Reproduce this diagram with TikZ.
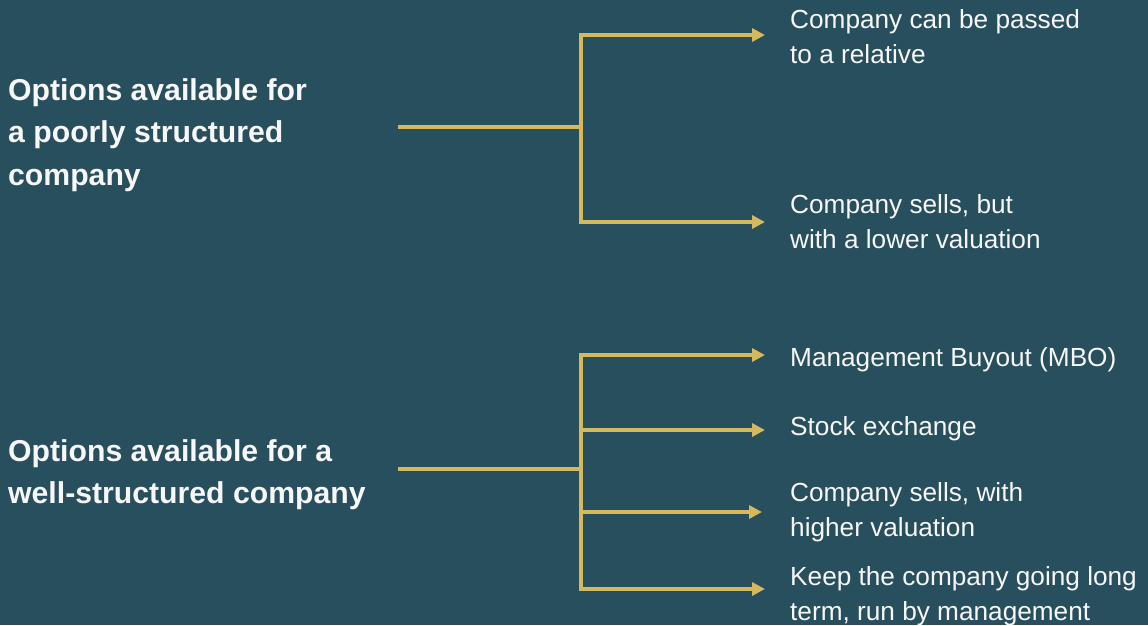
\documentclass[tikz,border=0pt]{standalone}
\usepackage{fontspec}
\setmainfont{Liberation Sans}
\usetikzlibrary{arrows.meta}
\definecolor{bg}{HTML}{284F5D}
\definecolor{gold}{HTML}{D4B95E}
\definecolor{txt}{HTML}{F7F7F7}
\tikzset{
  conn/.style={draw=gold, line width=4pt, line join=miter},
  arr/.style={conn, -{Triangle[length=13pt,width=13pt]}},
  head/.style={text=txt, font=\bfseries\fontsize{30.2}{42.3}\selectfont, align=left, inner sep=0pt, anchor=base west},
  item/.style={text=txt, font=\fontsize{26.2}{34.7}\selectfont, align=left, inner sep=0pt, anchor=base west},
}
\begin{document}
\begin{tikzpicture}[x=1pt,y=-1pt]
\fill[bg] (0,0) rectangle (1148,625);
\useasboundingbox (0,0) rectangle (1148,625);
% headings (anchored at the baseline of the last line)
\node[head] (h1) at (8,185) {Options available for\\a poorly structured\\company};
\node[head] (h2) at (8,503.5) {Options available for a\\well-structured company};
% items
\node[item] (i1) at (790,63) {Company can be passed\\to a relative};
\node[item] (i2) at (790,248) {Company sells, but\\with a lower valuation};
\node[item] (i3) at (790,366) {Management Buyout (MBO)};
\node[item] (i4) at (790,435.7) {Stock exchange};
\node[item] (i5) at (790,536) {Company sells, with\\higher valuation};
\node[item] (i6) at (790,620) {Keep the company going long\\term, run by management};
% connector geometry
\coordinate (s1) at (398,127);
\coordinate (j1) at (581,127);
\coordinate (e1) at (765,35);
\coordinate (e2) at (765,222);
\coordinate (s2) at (398,469);
\coordinate (j2) at (581,469);
\coordinate (m2) at (581,430);
\coordinate (n2) at (581,512);
\coordinate (e3) at (765,355);
\coordinate (e4) at (765,430);
\coordinate (e5) at (762,512);
\coordinate (e6) at (765,589);
% top group
\draw[conn] (s1) -- (j1);
\draw[arr] (j1) |- (e1);
\draw[arr] (j1) |- (e2);
% bottom group
\draw[conn] (s2) -- (j2);
\draw[arr] (j2) |- (e3);
\draw[arr] (j2) |- (e6);
\draw[arr] (m2) -- (e4);
\draw[arr] (n2) -- (e5);
\end{tikzpicture}
\end{document}
